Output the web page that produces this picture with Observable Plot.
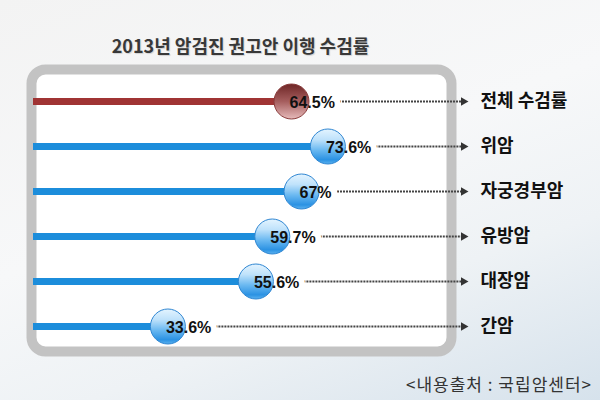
<!DOCTYPE html>
<html>
<head>
<meta charset="utf-8">
<script src="https://cdn.jsdelivr.net/npm/d3@7"></script>
<script src="https://cdn.jsdelivr.net/npm/@observablehq/plot@0.6"></script>
<style>
  html, body { margin: 0; padding: 0; }
  body {
    width: 600px; height: 400px; position: relative; overflow: hidden;
    background: linear-gradient(160deg, #f3f3f3 0%, #f7f8f9 45%, #eef2f5 70%, #d6e2ec 100%);
  }
  #title {
    position: absolute; top: 33px; left: 30px; width: 421px; text-align: center;
    font-family: "Noto Sans CJK KR", sans-serif; font-weight: bold; font-size: 18px;
    color: #383838; line-height: 24px; text-shadow: 1px 1px 1px rgba(0,0,0,0.15);
  }
  #chart { position: absolute; top: 55px; left: 0; }
  #caption {
    position: absolute; top: 372px; right: 8px;
    font-family: "Noto Sans CJK KR", sans-serif; font-size: 17px; color: #333;
    line-height: 24px; letter-spacing: 1px;
  }
</style>
</head>
<body>
<svg width="0" height="0" style="position:absolute">
  <defs>
    <linearGradient id="blueBall" x1="0" y1="0" x2="0" y2="1">
      <stop offset="0%" stop-color="#e4f4ff"/>
      <stop offset="30%" stop-color="#bfe2fb"/>
      <stop offset="60%" stop-color="#6bb9f1"/>
      <stop offset="88%" stop-color="#2b92e3"/>
      <stop offset="100%" stop-color="#5cb2ef"/>
    </linearGradient>
    <linearGradient id="redBall" x1="0" y1="0" x2="0" y2="1">
      <stop offset="0%" stop-color="#6e2626"/>
      <stop offset="50%" stop-color="#a65e5e"/>
      <stop offset="100%" stop-color="#e6baba"/>
    </linearGradient>
  </defs>
</svg>
<div id="title">2013년 암검진 권고안 이행 수검률</div>
<div id="chart"></div>
<div id="caption">&lt;내용출처 : 국립암센터&gt;</div>
<script>
const categories = ["전체 수검률", "위암", "자궁경부암", "유방암", "대장암", "간암"];
const values = [64.5, 73.6, 67, 59.7, 55.6, 33.6];
const valueLabels = ["64.5%", "73.6%", "67%", "59.7%", "55.6%", "33.6%"];
const kinds = ["total", "cancer", "cancer", "cancer", "cancer", "cancer"];

const data = categories.map((c, i) => ({cat: c, value: values[i], label: valueLabels[i], kind: kinds[i]}));
const barColor = d => d.kind === "total" ? "#a03434" : "#1c8ddb";
const ballFill = d => d.kind === "total" ? "url(#redBall)" : "url(#blueBall)";
const ballStroke = d => d.kind === "total" ? "#8a3c3c" : "#2f86d2";
const arrowEnd = 107.5;

const plot = Plot.plot({
  width: 600,
  height: 310,
  marginTop: 14,
  marginBottom: 14,
  marginLeft: 31,
  marginRight: 149,
  x: {domain: [0, 100], range: [33, 433], axis: null},
  y: {type: "point", domain: categories, range: [45, 272], padding: 0, axis: null},
  style: {background: "transparent", overflow: "visible"},
  marks: [
    Plot.frame({fill: "white", stroke: "#c3c3c3", strokeWidth: 10, rx: 14, ry: 14}),
    Plot.ruleY(data, {y: "cat", x1: "value", x2: arrowEnd, stroke: "#444", strokeWidth: 2, strokeDasharray: "2 1"}),
    Plot.dot(data, {y: "cat", x: arrowEnd, symbol: "triangle", rotate: 90, r: 3.2, fill: "#333", stroke: null}),
    Plot.text(data, {y: "cat", x: "value", text: "label", textAnchor: "start", dx: -2, fill: "white", stroke: "white", strokeWidth: 12,
      fontFamily: "Liberation Sans, Arial, sans-serif", fontWeight: "bold", fontSize: 16}),
    Plot.ruleY(data, {y: "cat", x1: 0, x2: "value", stroke: barColor, strokeWidth: 7}),
    Plot.dot(data, {y: "cat", x: "value", r: 17.5, fill: ballFill, stroke: ballStroke, strokeWidth: 1}),
    Plot.text(data, {y: "cat", x: "value", text: "label", textAnchor: "start", dx: -2, dy: 1, fill: "#111",
      fontFamily: "Liberation Sans, Arial, sans-serif", fontWeight: "bold", fontSize: 16}),
    Plot.text(data, {y: "cat", text: "cat", frameAnchor: "right", dx: 29, textAnchor: "start", fill: "#111",
      fontFamily: "Noto Sans CJK KR, sans-serif", fontWeight: "bold", fontSize: 18})
  ]
});
document.getElementById("chart").appendChild(plot);
</script>
</body>
</html>
